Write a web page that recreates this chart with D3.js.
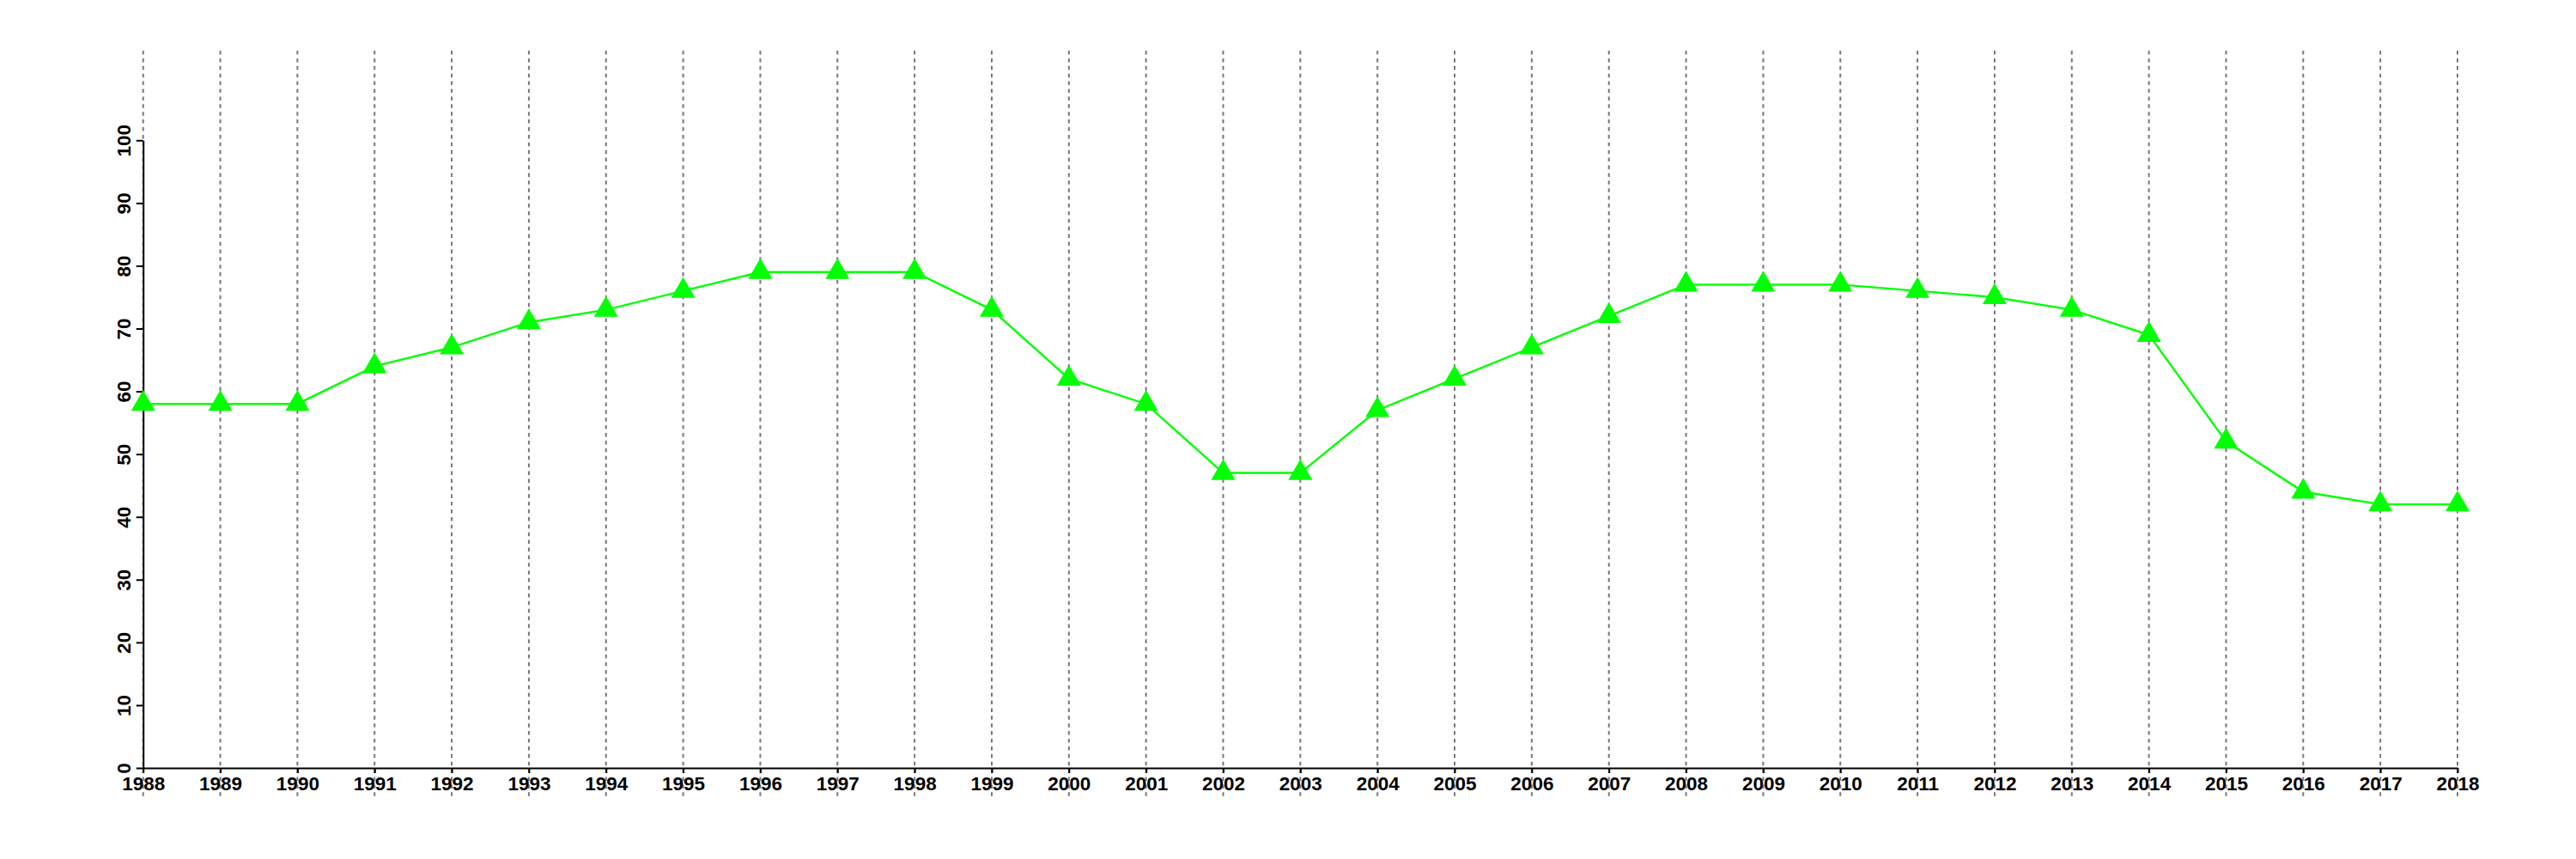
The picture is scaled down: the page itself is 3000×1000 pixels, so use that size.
<!DOCTYPE html>
<html><head><meta charset="utf-8">
<script src="https://cdn.jsdelivr.net/npm/d3@7"></script>
<style>body{margin:0;background:#fff}svg{display:block}</style>
</head><body>
<svg id="c" width="3000" height="1000"></svg>
<script>
const years = [1988,1989,1990,1991,1992,1993,1994,1995,1996,1997,1998,1999,2000,2001,2002,2003,2004,2005,2006,2007,2008,2009,2010,2011,2012,2013,2014,2015,2016,2017,2018];
const values = [58,58,58,64,67,71,73,76,79,79,79,73,62,58,47,47,57,62,67,72,77,77,77,76,75,73,69,52,44,42,42];
const yTicks = [0,10,20,30,40,50,60,70,80,90,100];

const svg = d3.select("#c");
const x = d3.scaleLinear().domain([1988,2018]).range([166.7,2862]);
const y = d3.scaleLinear().domain([0,100]).range([894,163.3]);
const font = "'Liberation Sans', Arial, sans-serif";

// vertical dotted grid
svg.append("g").selectAll("line").data(years).join("line")
  .attr("x1", d=>x(d)).attr("x2", d=>x(d))
  .attr("y1", 59).attr("y2", 928)
  .attr("stroke", "#777").attr("stroke-width", 2)
  .attr("stroke-dasharray", "4.5,4.4");

// y axis
const ya = svg.append("g").attr("transform", `translate(${x(1988)},0)`)
  .call(d3.axisLeft(y).tickValues(yTicks).tickSize(8).tickSizeOuter(0));
ya.select(".domain").attr("stroke","#000").attr("stroke-width",2);
ya.selectAll(".tick line").attr("stroke","#000").attr("stroke-width",2);
ya.selectAll(".tick text")
  .attr("font-family", font).attr("font-size", 22.5).attr("font-weight","bold").attr("fill","#000")
  .attr("text-anchor","middle").attr("x",0).attr("y",0).attr("dy","0")
  .attr("transform","translate(-14.5,0) rotate(-90)");

// x axis
const xa = svg.append("g").attr("transform", `translate(0,${y(0)})`)
  .call(d3.axisBottom(x).tickValues(years).tickFormat(d3.format("d")).tickSize(6).tickSizeOuter(0));
xa.select(".domain").attr("stroke","#000").attr("stroke-width",2);
xa.selectAll(".tick line").attr("stroke","#000").attr("stroke-width",2);
xa.selectAll(".tick text")
  .attr("font-family", font).attr("font-size", 22.5).attr("font-weight","bold").attr("fill","#000")
  .attr("y", 10).attr("dy","0.71em");

// line
svg.append("path").datum(years.map((d,i)=>[d,values[i]]))
  .attr("fill","none").attr("stroke","#00ff00").attr("stroke-width",2.4)
  .attr("d", d3.line().x(d=>x(d[0])).y(d=>y(d[1])));

// markers
svg.append("g").selectAll("path").data(years.map((d,i)=>[d,values[i]])).join("path")
  .attr("transform", d=>`translate(${x(d[0])},${y(d[1])})`)
  .attr("d", d3.symbol().type(d3.symbolTriangle).size(340))
  .attr("fill","#00ff00");
</script>
</body></html>
